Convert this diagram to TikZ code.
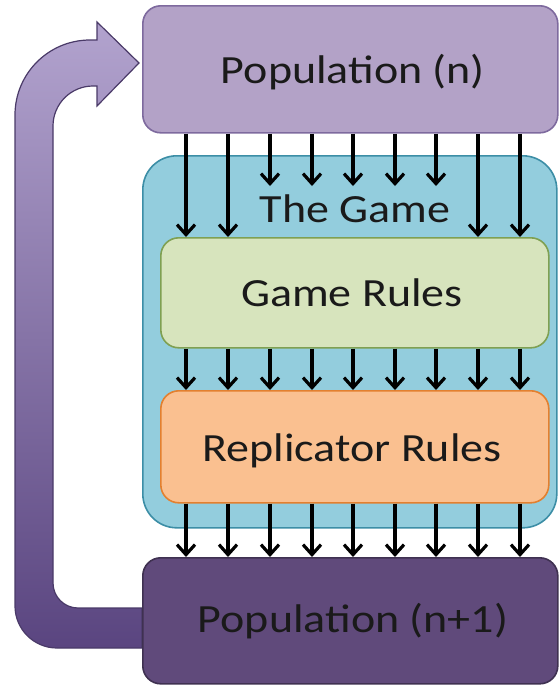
\documentclass[tikz,border=0pt]{standalone}
\usepackage{fontspec}
\setmainfont{Carlito}[FakeStretch=1.15]
\usetikzlibrary{arrows.meta}
\definecolor{popTop}{HTML}{B3A2C7}
\definecolor{popTopLine}{HTML}{7E6A9E}
\definecolor{popBot}{HTML}{604A7B}
\definecolor{popBotLine}{HTML}{3F3151}
\definecolor{gameFill}{HTML}{93CDDD}
\definecolor{gameLine}{HTML}{3C8EA6}
\definecolor{greenFill}{HTML}{D7E4BD}
\definecolor{greenLine}{HTML}{7FA052}
\definecolor{orFill}{HTML}{FAC090}
\definecolor{orLine}{HTML}{E3802F}
\definecolor{bandTop}{HTML}{B2A3CE}
\definecolor{bandBot}{HTML}{5A4580}
\definecolor{bandLine}{HTML}{4A3A68}
\definecolor{txt}{HTML}{1A1A1A}
\begin{document}
\begin{tikzpicture}[x=1pt,y=-1pt,
  box/.style={rounded corners=18pt, line width=1.6pt},
  lbl/.style={anchor=base, text=txt, font=\fontsize{40}{44}\selectfont, inner sep=0pt},
  flow/.style={line width=3.2pt, -{Straight Barb[length=10pt,width=18pt,line width=3.2pt]}}]
\useasboundingbox (0,0) rectangle (560,686);
% band arrow
\shade[top color=bandTop, bottom color=bandBot, draw=bandLine, line width=1.2pt]
  (142,648) -- (57,648) arc (90:180:42) -- (15,115) arc (180:270:75)
  -- (97,40) -- (97,22) -- (139,63) -- (97,106) -- (97,86) -- (93,86)
  arc (270:180:40) -- (53,583) arc (180:90:25) -- (142,608) -- cycle;
% boxes
\node (game) [box, rounded corners=34pt, draw=gameLine, fill=gameFill, minimum width=414pt, minimum height=372pt, anchor=north west] at (142,155) {};
\node (top) [box, draw=popTopLine, fill=popTop, minimum width=415pt, minimum height=127pt, anchor=north west] at (142,5) {};
\node (green) [box, draw=greenLine, fill=greenFill, minimum width=388pt, minimum height=110pt, anchor=north west] at (160,237) {};
\node (orange) [box, draw=orLine, fill=orFill, minimum width=388pt, minimum height=112pt, anchor=north west] at (160,390) {};
\node (bottom) [box, draw=popBotLine, fill=popBot, minimum width=415pt, minimum height=126pt, anchor=north west] at (142,557) {};
% labels
\node (topt) [lbl] at (353,83) {Population (n)};
\node (gamet) [lbl] at (355,222) {The Game};
\node (greent) [lbl] at (352,306) {Game Rules};
\node (ort) [lbl] at (352,461) {Replicator Rules};
\node (bott) [lbl] at (353,632) {Population (n+1)};
% arrow columns
\foreach \i/\x in {1/186,2/228,3/270,4/312,5/353,6/395,7/436,8/478,9/520}
  \coordinate (c\i) at (\x,0);
\coordinate (stop) at (0,186);
\foreach \i in {1,2,8,9}
  \draw[flow] (top.south -| c\i) -- (green.north -| c\i);
\foreach \i in {3,4,5,6,7}
  \draw[flow] (top.south -| c\i) -- (stop -| c\i);
\foreach \i in {1,...,9}{
  \draw[flow] (green.south -| c\i) -- (orange.north -| c\i);
  \draw[flow] (orange.south -| c\i) -- (bottom.north -| c\i);
}
\end{tikzpicture}
\end{document}
